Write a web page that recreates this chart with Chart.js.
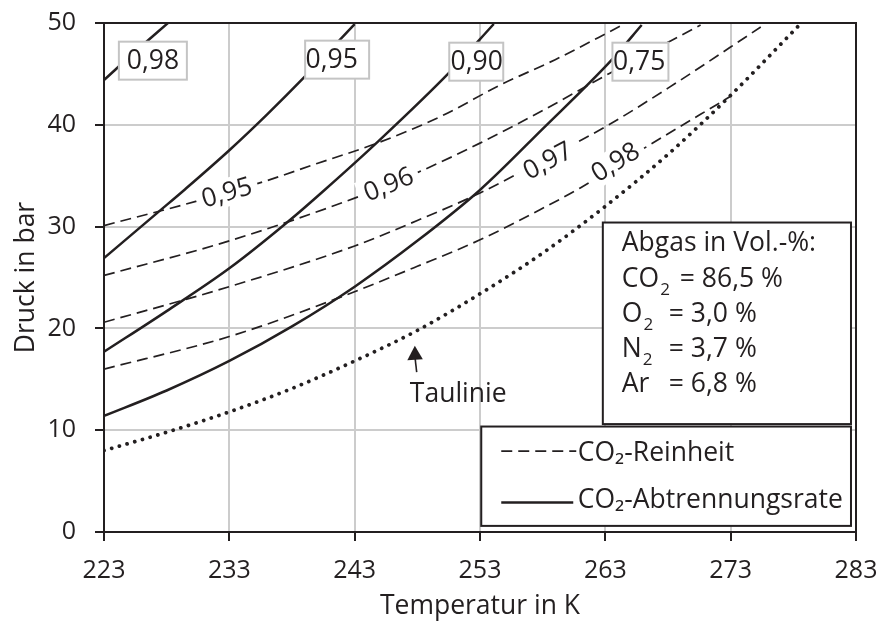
<!DOCTYPE html>
<html><head><meta charset="utf-8">
<script src="https://cdn.jsdelivr.net/npm/chart.js@4.4.1/dist/chart.umd.min.js"></script>
<style>html,body{margin:0;padding:0;background:#fff}canvas{display:block}</style>
</head><body>
<canvas id="c" width="882" height="627" style="width:882px;height:627px"></canvas>
<script>
const FONT = '"Open Sans", "Noto Sans", "DejaVu Sans", sans-serif';
const INK = '#231f20';

// Axis ticks (Temperatur in K / Druck in bar)
const xTicks = [223, 233, 243, 253, 263, 273, 283];
const yTicks = [0, 10, 20, 30, 40, 50];

// Taulinie (dotted)
const tauT = [223, 228, 233, 238, 243, 248, 253, 258, 263, 268, 273, 278.4];
const tauP = [8.0, 9.8, 11.8, 14.1, 16.8, 19.8, 23.4, 27.4, 32.0, 37.1, 42.9, 49.7];

// CO2-Reinheit (dashed)
const rein095T = [223, 230.4, 235.7, 240, 244.8, 250, 254.6, 259, 264.2];
const rein095P = [30.1, 32.5, 34.4, 36.2, 38.2, 40.9, 43.9, 46.4, 49.7];
const rein096T = [223, 233, 243, 248, 253, 258, 263.4, 270.6];
const rein096P = [25.2, 28.6, 32.8, 35.3, 38.2, 41.4, 45.1, 49.8];
const rein097T = [223, 233, 243, 248, 253, 258, 263, 268, 275.4];
const rein097P = [20.6, 24.1, 28.1, 30.6, 33.3, 36.5, 39.8, 43.6, 49.6];
const rein098T = [223, 233, 241.3, 248, 253, 258, 261, 265.7, 273];
const rein098P = [16.0, 19.2, 22.8, 26.1, 28.7, 31.8, 33.8, 37.4, 42.8];

// CO2-Abtrennungsrate (solid)
const rate098T = [223, 225.5, 228.1];
const rate098P = [44.4, 47.2, 50.0];
const rate095T = [223, 227.3, 229.5, 233, 236, 239, 243];
const rate095P = [26.9, 31.4, 33.7, 37.5, 41.0, 44.7, 49.9];
const rate090T = [223, 228, 233, 237.6, 240.6, 244.9, 250.6, 254.1];
const rate090P = [17.7, 21.7, 25.9, 30.4, 33.6, 38.4, 45.2, 49.9];
const rate075T = [223, 228, 233, 238, 243, 248, 253, 258, 263.6, 265.9];
const rate075P = [11.4, 13.9, 16.8, 20.2, 24.1, 28.6, 33.6, 39.6, 46.5, 49.8];

// curve labels
const rateLabels = ['0,98', '0,95', '0,90', '0,75'];
const reinLabels = ['0,95', '0,96', '0,97', '0,98'];

const pts = (T, P) => T.map((t, i) => ({x: t, y: P[i]}));

const solid = (T, P) => ({data: pts(T, P), borderColor: INK, borderWidth: 2.5, pointRadius: 0, cubicInterpolationMode: 'monotone', fill: false});
const dashed = (T, P) => ({data: pts(T, P), borderColor: INK, borderWidth: 1.7, borderDash: [11, 6], pointRadius: 0, cubicInterpolationMode: 'monotone', fill: false});

const datasets = [
  solid(rate098T, rate098P),
  solid(rate095T, rate095P),
  solid(rate090T, rate090P),
  solid(rate075T, rate075P),
  {data: pts(tauT, tauP), borderColor: INK, borderWidth: 3.8, borderDash: [0.01, 8], borderCapStyle: 'round', pointRadius: 0, cubicInterpolationMode: 'monotone', fill: false},
  dashed(rein095T, rein095P),
  dashed(rein096T, rein096P),
  dashed(rein097T, rein097P),
  dashed(rein098T, rein098P)
];

// placement of labels (temperature along curve, offsets)
const reinPlace = [{ds: 5, t: 232.8, dy: 0}, {ds: 6, t: 245.7, dy: 0}, {ds: 7, t: 258.4, dy: 3}, {ds: 8, t: 263.8, dy: -4}];
const ratePlace = [{t: 226.9, p: 46.3, w: 68, tx: 153}, {t: 241.6, p: 46.4, w: 64, tx: 331.7}, {t: 252.7, p: 46.2, w: 54, tx: 476.7}, {t: 265.8, p: 46.2, w: 56, tx: 639.2}];

function lineAt(chart, dsIndex, px) {
  const el = chart.getDatasetMeta(dsIndex).data;
  let i = 0;
  while (i < el.length - 2 && el[i + 1].x < px) i++;
  const p0 = el[i], p1 = el[i + 1];
  const f = (px - p0.x) / (p1.x - p0.x);
  return {y: p0.y + f * (p1.y - p0.y), ang: Math.atan2(p1.y - p0.y, p1.x - p0.x)};
}

const deco = {
  id: 'deco',
  afterDatasetDraw(chart, args) {
    if (args.index !== 5) return;
    const {ctx, scales: {x}} = chart;
    ctx.save();
    ctx.font = '26px ' + FONT;
    reinPlace.forEach((l, k) => {
      const px = x.getPixelForValue(l.t);
      const {y, ang} = lineAt(chart, l.ds, px);
      const txt = reinLabels[k];
      ctx.save();
      ctx.translate(px, y + l.dy);
      ctx.rotate(ang);
      const w = ctx.measureText(txt).width;
      ctx.fillStyle = '#fff';
      ctx.fillRect(-w / 2 - 6, -14, w + 12, 28);
      ctx.fillStyle = INK;
      ctx.textAlign = 'center';
      ctx.textBaseline = 'middle';
      ctx.fillText(txt, 0, 1);
      ctx.restore();
    });
    ctx.restore();
  },
  afterDatasetsDraw(chart) {
    const {ctx, chartArea: a, scales: {x, y}} = chart;
    ctx.save();
    // frame top & right
    ctx.strokeStyle = INK; ctx.lineWidth = 2;
    ctx.beginPath();
    ctx.moveTo(a.left, a.top); ctx.lineTo(a.right, a.top); ctx.lineTo(a.right, a.bottom);
    ctx.stroke();

    // boxed labels on solid curves
    ctx.font = '26.5px ' + FONT;
    ctx.textBaseline = 'middle';
    ctx.textAlign = 'center';
    ratePlace.forEach((l, k) => {
      const cx = x.getPixelForValue(l.t), cy = y.getPixelForValue(l.p);
      ctx.fillStyle = '#fff';
      ctx.fillRect(cx - l.w / 2, cy - 19, l.w, 38);
      ctx.strokeStyle = '#c4c4c4'; ctx.lineWidth = 2;
      ctx.strokeRect(cx - l.w / 2, cy - 19, l.w, 38);
      ctx.fillStyle = INK;
      ctx.fillText(rateLabels[k], l.tx, cy + 1);
    });

    // Taulinie arrow + text
    const ax = x.getPixelForValue(247.8), ay = y.getPixelForValue(18.3);
    const bx = x.getPixelForValue(247.95), by = y.getPixelForValue(15.7);
    ctx.strokeStyle = INK; ctx.lineWidth = 1.6;
    ctx.beginPath(); ctx.moveTo(bx, by); ctx.lineTo(ax + 0.2, ay + 12); ctx.stroke();
    ctx.fillStyle = INK;
    ctx.beginPath(); ctx.moveTo(ax, ay); ctx.lineTo(ax - 7.5, ay + 14.5); ctx.lineTo(ax + 8, ay + 13.5); ctx.closePath(); ctx.fill();
    ctx.textAlign = 'left'; ctx.textBaseline = 'alphabetic';
    ctx.font = '26.5px ' + FONT;
    ctx.fillText('Taulinie', x.getPixelForValue(247.4), y.getPixelForValue(12.75));

    // composition box
    const bL = x.getPixelForValue(262.8), bR = x.getPixelForValue(282.6);
    const bT = y.getPixelForValue(30.4), bB = y.getPixelForValue(10.6);
    ctx.fillStyle = '#fff'; ctx.fillRect(bL, bT, bR - bL, bB - bT);
    ctx.strokeStyle = INK; ctx.lineWidth = 2; ctx.strokeRect(bL, bT, bR - bL, bB - bT);
    ctx.fillStyle = INK;
    const tx = bL + 19;
    ctx.font = '26.5px ' + FONT;
    ctx.fillText('Abgas in Vol.-%:', tx, bT + 28);
    const rows = [['CO', '2', '= 86,5 %', 58], ['O', '2', '= 3,0 %', 47], ['N', '2', '= 3,7 %', 47], ['Ar', '', '= 6,8 %', 47]];
    rows.forEach((r, i) => {
      const base = bT + 64 + i * 35.3;
      ctx.font = '26.5px ' + FONT;
      ctx.fillText(r[0], tx, base);
      const w0 = ctx.measureText(r[0]).width;
      if (r[1]) { ctx.font = '17px ' + FONT; ctx.fillText(r[1], tx + w0 + 1, base + 8); }
      ctx.font = '26.5px ' + FONT;
      ctx.fillText(r[2], tx + r[3], base);
    });

    // legend box
    const lL = x.getPixelForValue(253.1), lR = x.getPixelForValue(282.6);
    const lT = y.getPixelForValue(10.36), lB = y.getPixelForValue(0.6);
    ctx.fillStyle = '#fff'; ctx.fillRect(lL, lT, lR - lL, lB - lT);
    ctx.strokeStyle = INK; ctx.lineWidth = 2; ctx.strokeRect(lL, lT, lR - lL, lB - lT);
    ctx.lineWidth = 1.7; ctx.setLineDash([11, 6]);
    ctx.beginPath(); ctx.moveTo(lL + 20, lT + 24.5); ctx.lineTo(lL + 95, lT + 24.5); ctx.stroke();
    ctx.setLineDash([]); ctx.lineWidth = 2.5;
    ctx.beginPath(); ctx.moveTo(lL + 20, lT + 76); ctx.lineTo(lL + 92, lT + 76); ctx.stroke();
    ctx.fillStyle = INK; ctx.font = '26.5px ' + FONT;
    ctx.fillText('CO\u2082-Reinheit', lL + 96.5, lT + 34.5);
    ctx.fillText('CO\u2082-Abtrennungsrate', lL + 96.5, lT + 81);
    ctx.restore();
  }
};

const tickFont = {family: FONT, size: 25};
new Chart(document.getElementById('c'), {
  type: 'line',
  data: {datasets},
  plugins: [deco],
  options: {
    responsive: false,
    animation: false,
    layout: {padding: {left: 0, right: 26, top: 23, bottom: 0}},
    plugins: {legend: {display: false}, tooltip: {enabled: false}},
    scales: {
      x: {
        type: 'linear', min: 223, max: 283,
        afterBuildTicks: s => { s.ticks = xTicks.map(v => ({value: v})); },
        afterFit: s => { s.height = 95; s.paddingLeft = 0; s.paddingRight = 0; },
        ticks: {font: tickFont, color: INK, padding: 15, maxRotation: 0},
        grid: {color: '#cccccc', lineWidth: 2, tickLength: 9, tickColor: INK, tickWidth: 2},
        border: {color: INK, width: 2},
        title: {display: true, text: 'Temperatur in K', font: {family: FONT, size: 26.5}, color: INK, padding: {top: 0, bottom: 5}}
      },
      y: {
        type: 'linear', min: 0, max: 50,
        afterBuildTicks: s => { s.ticks = yTicks.map(v => ({value: v})); },
        afterFit: s => { s.width = 104; s.paddingTop = 0; s.paddingBottom = 0; },
        ticks: {font: tickFont, color: INK, padding: 19},
        grid: {color: '#cccccc', lineWidth: 2, tickLength: 9, tickColor: INK, tickWidth: 2},
        border: {color: INK, width: 2},
        title: {display: true, text: 'Druck in bar', font: {family: FONT, size: 26.5}, color: INK, padding: {top: 11, bottom: 0}}
      }
    }
  }
});
</script>
</body></html>
